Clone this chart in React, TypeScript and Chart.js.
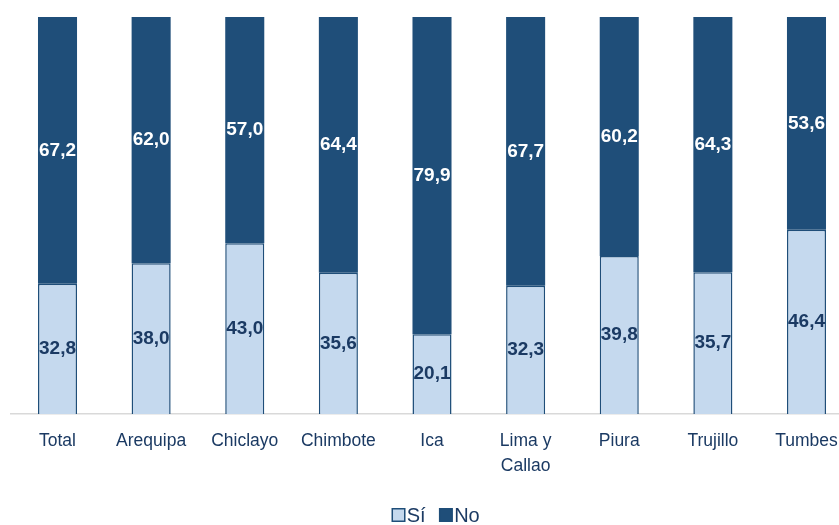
import React, { useEffect, useRef } from "react";
import { Chart, registerables } from "chart.js";

Chart.register(...registerables);

const categories: (string | string[])[] = ["Total", "Arequipa", "Chiclayo", "Chimbote", "Ica", ["Lima y", "Callao"], "Piura", "Trujillo", "Tumbes"];
const siValues = [32.8, 38.0, 43.0, 35.6, 20.1, 32.3, 39.8, 35.7, 46.4];
const noValues = [67.2, 62.0, 57.0, 64.4, 79.9, 67.7, 60.2, 64.3, 53.6];
const seriesNames = ["Sí", "No"];

const DARK = "#1F4E79";
const LIGHT = "#C5D9EE";
const TEXT = "#1B3A63";
const labelColors = [TEXT, "#FFFFFF"];
const FONT = "'Liberation Sans', Arial, sans-serif";

const valueLabels = {
  id: "valueLabels",
  afterDatasetsDraw(chart: any) {
    const ctx = chart.ctx;
    ctx.save();
    ctx.font = `bold 19px ${FONT}`;
    ctx.textAlign = "center";
    ctx.textBaseline = "middle";
    chart.data.datasets.forEach((ds: any, i: number) => {
      const meta = chart.getDatasetMeta(i);
      ctx.fillStyle = labelColors[i];
      meta.data.forEach((el: any, j: number) => {
        const p = el.getProps(["x", "y", "base"], true);
        const v = ds.data[j] as number;
        ctx.fillText(v.toFixed(1).replace(".", ","), p.x, (p.y + p.base) / 2);
      });
    });
    ctx.restore();
  },
};

const compactLegend = {
  id: "compactLegend",
  afterDraw(chart: any) {
    const ctx = chart.ctx;
    ctx.save();
    ctx.font = `20px ${FONT}`;
    ctx.textBaseline = "middle";
    ctx.textAlign = "left";
    const box = 12.5;
    const gap = 2;
    const itemGap = 14;
    const items = chart.data.datasets.map((ds: any) => ({
      label: ds.label as string,
      fill: ds.backgroundColor as string,
      w: ctx.measureText(ds.label).width,
    }));
    const total = items.reduce((s: number, it: any) => s + box + gap + it.w, 0) + itemGap * (items.length - 1);
    const cx = (chart.chartArea.left + chart.chartArea.right) / 2 + 4;
    const cy = chart.height - 10;
    let x = cx - total / 2;
    items.forEach((it: any) => {
      ctx.fillStyle = it.fill;
      ctx.fillRect(x, cy - box / 2, box, box);
      ctx.strokeStyle = DARK;
      ctx.lineWidth = 1.5;
      ctx.strokeRect(x, cy - box / 2, box, box);
      ctx.fillStyle = TEXT;
      ctx.fillText(it.label, x + box + gap, cy + 1);
      x += box + gap + it.w + itemGap;
    });
    ctx.restore();
  },
};

export default function App() {
  const ref = useRef<HTMLCanvasElement>(null);
  useEffect(() => {
    if (!ref.current) return;
    const chart = new Chart(ref.current, {
      type: "bar",
      data: {
        labels: categories,
        datasets: [
          { label: seriesNames[0], data: siValues, backgroundColor: LIGHT, borderColor: DARK, borderWidth: 1.5 },
          { label: seriesNames[1], data: noValues, backgroundColor: DARK, borderColor: DARK, borderWidth: 0 },
        ],
      },
      options: {
        animation: false,
        responsive: true,
        maintainAspectRatio: false,
        layout: { padding: { left: 10.7, right: 6.7, top: 17, bottom: 40 } },
        datasets: { bar: { categoryPercentage: 1, barPercentage: 0.417 } },
        scales: {
          x: {
            stacked: true,
            grid: { display: false },
            border: { display: true, color: "#D9D9D9", width: 1.5 },
            ticks: {
              color: TEXT,
              padding: 7,
              maxRotation: 0,
              autoSkip: false,
              font: { family: FONT, size: 17.5, lineHeight: 1.4 },
            },
          },
          y: { stacked: true, display: false, min: 0, max: 100 },
        },
        plugins: {
          legend: { display: false },
          tooltip: { enabled: false },
        },
      },
      plugins: [valueLabels, compactLegend],
    });
    return () => chart.destroy();
  }, []);
  return (
    <div style={{ position: "fixed", left: 0, top: 0, width: 839, height: 525, overflow: "hidden", background: "#fff" }}>
      <div style={{ position: "relative", width: 860, height: 525 }}>
        <canvas ref={ref} />
      </div>
    </div>
  );
}
